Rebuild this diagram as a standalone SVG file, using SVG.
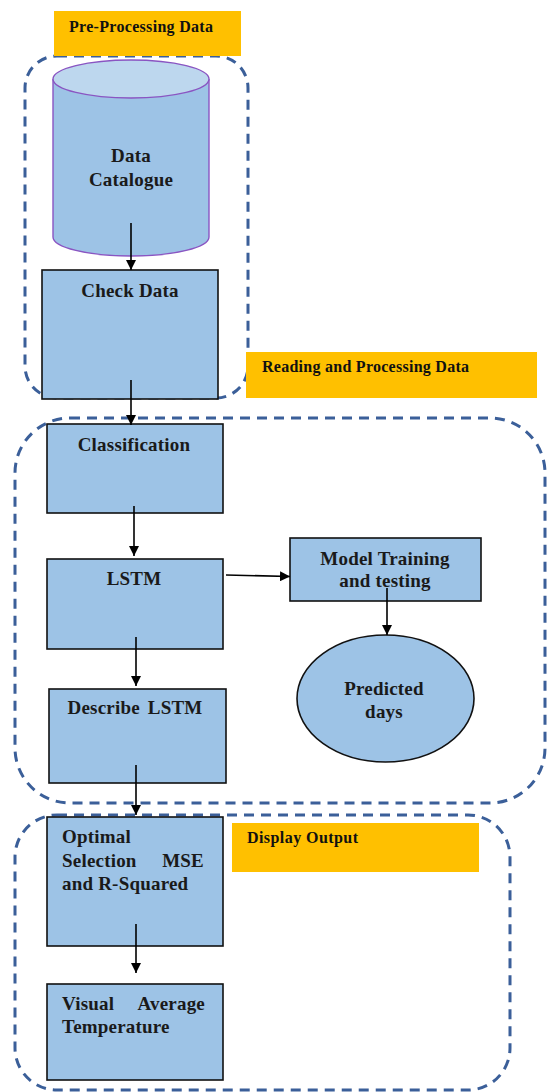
<svg xmlns="http://www.w3.org/2000/svg" width="547" height="1092" viewBox="0 0 547 1092">
<defs>
<style>
.region{fill:none;stroke:#3B5F99;stroke-width:3;stroke-dasharray:10 7}
.label{fill:#FFC000}
.lt{font-family:"Liberation Serif","Times New Roman",serif;font-weight:bold;font-size:16px;fill:#111}
.box{fill:#9DC3E6;stroke:#111;stroke-width:1.6}
.t{font-family:"Liberation Serif","Times New Roman",serif;font-weight:bold;font-size:19px;fill:#1a1a1a;letter-spacing:0.2px}
.c{text-anchor:middle}
.conn{fill:none;stroke:#000;stroke-width:1.6;marker-end:url(#ah)}
</style>
<marker id="ah" viewBox="0 0 10 10" refX="10" refY="5" markerWidth="10" markerHeight="10" markerUnits="userSpaceOnUse" orient="auto">
<path d="M0,0 L10,5 L0,10 z" fill="#000"/>
</marker>
</defs>
<rect width="547" height="1092" fill="#fff"/>
<g id="regions">
<rect id="region-preprocessing" class="region" x="25" y="56" width="223" height="342" rx="32"/>
<rect id="region-reading" class="region" x="15" y="418" width="530" height="385" rx="55"/>
<rect id="region-display" class="region" x="15" y="815" width="495" height="275" rx="42"/>
</g>
<g id="label-preprocessing">
<rect class="label" x="54" y="11" width="187" height="45"/>
<text class="lt" x="69" y="32" textLength="144" lengthAdjust="spacing">Pre-Processing Data</text>
</g>
<g id="label-reading">
<rect class="label" x="246" y="352" width="291" height="46"/>
<text class="lt" x="262" y="372" textLength="207" lengthAdjust="spacing">Reading and Processing Data</text>
</g>
<g id="label-display">
<rect class="label" x="232" y="823" width="247" height="49"/>
<text class="lt" x="247" y="843" textLength="111" lengthAdjust="spacing">Display Output</text>
</g>
<g id="node-data-catalogue">
<path d="M53,79 L53,237 A78,19 0 0 0 209,237 L209,79" fill="#9DC3E6" stroke="#8A55C2" stroke-width="1.4"/>
<ellipse cx="131" cy="79" rx="78" ry="19" fill="#BDD7EE" stroke="#8A55C2" stroke-width="1.4"/>
<text class="t c" x="131" y="162">Data</text>
<text class="t c" x="131" y="186">Catalogue</text>
</g>
<g id="node-check-data">
<rect class="box" x="42" y="270" width="176" height="129"/>
<text class="t c" x="130" y="297">Check Data</text>
</g>
<g id="node-classification">
<rect class="box" x="47" y="424" width="176" height="89"/>
<text class="t c" x="134" y="451">Classification</text>
</g>
<g id="node-lstm">
<rect class="box" x="47" y="559" width="176" height="90"/>
<text class="t c" x="134" y="585">LSTM</text>
</g>
<g id="node-model-training">
<rect class="box" x="290" y="538" width="191" height="63"/>
<text class="t c" x="385" y="565">Model Training</text>
<text class="t c" x="385" y="587">and testing</text>
</g>
<g id="node-predicted-days">
<ellipse class="box" cx="385.5" cy="698.5" rx="88.5" ry="63.5"/>
<text class="t c" x="384" y="695">Predicted</text>
<text class="t c" x="384" y="718">days</text>
</g>
<g id="node-describe-lstm">
<rect class="box" x="49" y="689" width="177" height="94"/>
<text class="t c" x="135" y="714" word-spacing="3">Describe LSTM</text>
</g>
<g id="node-optimal-selection">
<rect class="box" x="47" y="817" width="176" height="129"/>
<text class="t" x="62" y="843">Optimal</text>
<text class="t" x="62" y="867">Selection</text>
<text class="t" x="204" y="867" text-anchor="end">MSE</text>
<text class="t" x="62" y="890">and R-Squared</text>
</g>
<g id="node-visual-average">
<rect class="box" x="47" y="984" width="176" height="96"/>
<text class="t" x="62" y="1010">Visual</text>
<text class="t" x="205" y="1010" text-anchor="end">Average</text>
<text class="t" x="62" y="1033">Temperature</text>
</g>
<g id="connectors">
<line class="conn" x1="131" y1="223" x2="131" y2="270"/>
<line class="conn" x1="131" y1="380" x2="131" y2="425"/>
<line class="conn" x1="134" y1="506" x2="134" y2="556"/>
<line class="conn" x1="226" y1="575" x2="290" y2="576.5"/>
<line class="conn" x1="387" y1="588" x2="387" y2="635"/>
<line class="conn" x1="136" y1="637" x2="136" y2="686"/>
<line class="conn" x1="136" y1="765" x2="136" y2="815"/>
<line class="conn" x1="136" y1="924" x2="136" y2="973"/>
</g>
</svg>
